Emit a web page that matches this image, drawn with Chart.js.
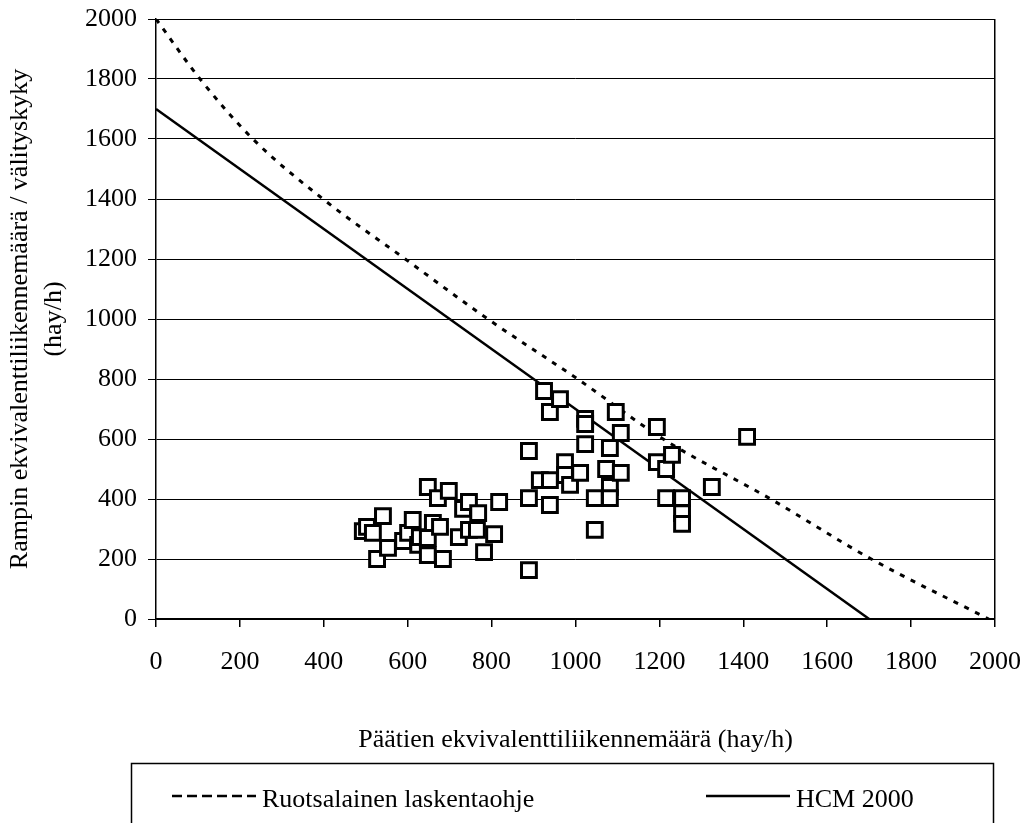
<!DOCTYPE html>
<html>
<head>
<meta charset="utf-8">
<script src="https://cdn.jsdelivr.net/npm/chart.js@4/dist/chart.umd.min.js"></script>
<style>
  body { margin: 0; background: #fff; }
</style>
</head>
<body>
<canvas id="graf1" width="1028" height="823"></canvas>
<script>
// measured points (main road vs ramp, hay/h)
var obsX = [493, 503, 517, 541, 527, 553, 589, 601, 612, 625, 629, 648, 648, 648, 660, 672, 677, 684, 698, 722, 732, 746, 746, 765, 768, 782, 806, 818,
            889, 889, 889, 915, 925, 939, 939, 939, 963, 975, 975, 987, 1011, 1023, 1023, 1023, 1046, 1046, 1073, 1082, 1082, 1082, 1096, 1108, 1108,
            1194, 1194, 1216, 1216, 1230, 1254, 1254, 1254, 1325, 1409];
var obsY = [293, 307, 287, 343, 200, 237, 260, 287, 330, 247, 273, 440, 270, 213, 320, 403, 307, 200, 427, 273, 367, 390, 297, 297, 353, 223, 283, 390,
            560, 403, 163, 463, 760, 690, 463, 380, 733, 523, 480, 447, 487, 667, 650, 583, 403, 297, 500, 570, 440, 403, 690, 620, 487,
            640, 523, 500, 403, 547, 403, 353, 317, 440, 607];

// Swedish guideline curve
var sweX = [0, 105, 231, 398, 594, 791, 1005, 1209, 1465, 1705, 1985];
var sweY = [2000, 1800, 1600, 1400, 1200, 1000, 800, 600, 400, 200, 0];

// HCM 2000 line
var hcmX = [0, 1700];
var hcmY = [1700, 0];

var axisMin = 0, axisMax = 2000, axisStep = 200;

var labels = ['Ruotsalainen laskentaohje', 'HCM 2000'];
var xTitle = 'Päätien ekvivalenttiliikennemäärä (hay/h)';
var yTitle = ['Rampin ekvivalenttiliikennemäärä / välityskyky', '(hay/h)'];

function toPoints(xs, ys) {
  return xs.map(function(x, i) { return { x: x, y: ys[i] }; });
}

var font = { family: 'Liberation Serif', size: 26 };

// legend drawn in a framed box under the axis title
var legendBox = {
  id: 'legendBox',
  afterDraw: function(chart) {
    var ctx = chart.ctx;
    var sets = chart.data.datasets.slice(1);
    var starts = [172, 706];
    ctx.save();
    ctx.strokeStyle = '#000';
    ctx.lineWidth = 1.5;
    ctx.strokeRect(131.5, 763.5, 862, 80);
    ctx.font = '26px "Liberation Serif"';
    ctx.fillStyle = '#000';
    ctx.textBaseline = 'middle';
    sets.forEach(function(ds, i) {
      var x = starts[i], y = 796;
      ctx.beginPath();
      ctx.setLineDash(ds.borderDash ? [10, 5] : []);
      ctx.lineWidth = 2.5;
      ctx.moveTo(x, y);
      ctx.lineTo(x + 84, y);
      ctx.stroke();
      ctx.setLineDash([]);
      ctx.fillText(ds.label, x + 90, y + 4);
    });
    ctx.restore();
  }
};

function plain(v) { return String(v); }

var g1 = document.getElementById('graf1');

var chart = new Chart(g1, {
  type: 'scatter',
  data: {
    datasets: [
      {
        label: 'Mittaukset',
        data: toPoints(obsX, obsY),
        pointStyle: 'rect',
        pointRadius: 10.5,
        pointBackgroundColor: '#fff',
        pointBorderColor: '#000',
        pointBorderWidth: 3
      },
      {
        label: labels[0],
        data: toPoints(sweX, sweY),
        showLine: true,
        pointRadius: 0,
        borderColor: '#000',
        borderWidth: 3,
        borderDash: [5, 7],
        cubicInterpolationMode: 'monotone'
      },
      {
        label: labels[1],
        data: toPoints(hcmX, hcmY),
        showLine: true,
        pointRadius: 0,
        borderColor: '#000',
        borderWidth: 2.5
      }
    ]
  },
  options: {
    responsive: false,
    animation: false,
    layout: { padding: { top: 19, right: 33, bottom: 68, left: 0 } },
    plugins: {
      legend: { display: false },
      tooltip: { enabled: false }
    },
    scales: {
      x: {
        type: 'linear',
        min: axisMin,
        max: axisMax,
        ticks: { stepSize: axisStep, color: '#000', font: font, padding: 20, maxRotation: 0, callback: plain },
        grid: {
          color: function(c) { return c.tick && c.tick.value === axisMax ? '#000' : 'rgba(0,0,0,0)'; },
          tickColor: '#000',
          tickLength: 8,
          lineWidth: 1.5
        },
        border: { color: '#000', width: 1.5 },
        title: { display: true, text: xTitle, color: '#000', font: { family: 'Liberation Serif', size: 26, lineHeight: 1.15 }, padding: { top: 0, bottom: 0 } },
        afterFit: function(s) { s.height = 136; s.paddingLeft = 0; s.paddingRight = 0; }
      },
      y: {
        type: 'linear',
        min: axisMin,
        max: axisMax,
        ticks: { stepSize: axisStep, color: '#000', font: font, padding: 11, callback: plain },
        grid: { color: '#000', tickColor: '#000', tickLength: 8, lineWidth: 1 },
        border: { color: '#000', width: 1.5 },
        title: { display: true, text: yTitle, color: '#000', font: { family: 'Liberation Serif', size: 26, lineHeight: 1.3 }, padding: { top: 3, bottom: 0 } },
        afterFit: function(s) { s.width = 156; s.paddingTop = 0; s.paddingBottom = 0; }
      }
    }
  },
  plugins: [legendBox]
});
</script>
</body>
</html>
